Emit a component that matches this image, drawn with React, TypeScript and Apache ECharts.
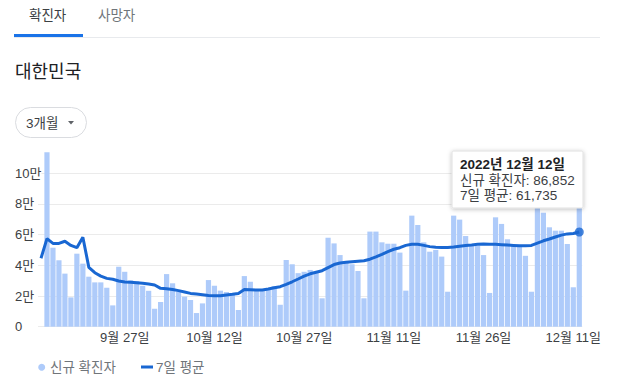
import React, { useEffect, useRef } from 'react';
import * as echarts from 'echarts';

const FF = 'Arial, "Liberation Sans", "Noto Sans CJK KR", sans-serif';

const categories = [
  '9월 13일', '9월 14일', '9월 15일', '9월 16일', '9월 17일', '9월 18일', '9월 19일', '9월 20일', '9월 21일', '9월 22일',
  '9월 23일', '9월 24일', '9월 25일', '9월 26일', '9월 27일', '9월 28일', '9월 29일', '9월 30일',
  '10월 1일', '10월 2일', '10월 3일', '10월 4일', '10월 5일', '10월 6일', '10월 7일', '10월 8일', '10월 9일', '10월 10일',
  '10월 11일', '10월 12일', '10월 13일', '10월 14일', '10월 15일', '10월 16일', '10월 17일', '10월 18일', '10월 19일', '10월 20일',
  '10월 21일', '10월 22일', '10월 23일', '10월 24일', '10월 25일', '10월 26일', '10월 27일', '10월 28일', '10월 29일', '10월 30일', '10월 31일',
  '11월 1일', '11월 2일', '11월 3일', '11월 4일', '11월 5일', '11월 6일', '11월 7일', '11월 8일', '11월 9일', '11월 10일',
  '11월 11일', '11월 12일', '11월 13일', '11월 14일', '11월 15일', '11월 16일', '11월 17일', '11월 18일', '11월 19일', '11월 20일',
  '11월 21일', '11월 22일', '11월 23일', '11월 24일', '11월 25일', '11월 26일', '11월 27일', '11월 28일', '11월 29일', '11월 30일',
  '12월 1일', '12월 2일', '12월 3일', '12월 4일', '12월 5일', '12월 6일', '12월 7일', '12월 8일', '12월 9일', '12월 10일',
  '12월 11일', '12월 12일',
];

const xTickLabels = ['9월 27일', '10월 12일', '10월 27일', '11월 11일', '11월 26일', '12월 11일'];

const newCases = [
  null,
  113700, 51500, 43300, 34600, 19100, 47600, 41100, 32600, 28900, 28900,
  25400, 13900, 39100, 35800, 30200, 29700, 26700, 23400, 11700, 16100,
  34300, 28300, 22800, 19600, 17400, 8900, 15200, 30400, 26700, 23500,
  22600, 21300, 10900, 33000, 29300, 24300, 24000, 25200, 26400, 14300,
  43500, 40700, 34900, 35800, 37000, 35200, 18500, 58000, 54300, 46700,
  42400, 40700, 36300, 18500, 62000, 62000, 55000, 54100, 54100, 48300,
  23500, 72400, 66300, 55000, 48900, 50000, 45700, 22800, 72400, 69800,
  59100, 53300, 52800, 46700, 22000, 71300, 67000, 57000, 53300, 53300,
  46200, 22800, 80000, 74300, 64800, 62600, 62600, 53900, 25700, 86852,
];

const avg7 = [
  44600,
  57400, 54300, 54300, 55700, 53000, 51500, 58300, 38700, 35200, 33000,
  31500, 30900, 29800, 29100, 28900, 28700, 28300, 27800, 27200, 25000,
  24800, 24300, 23500, 22600, 21700, 21300, 20900, 20400, 20200, 20200,
  20700, 21100, 21700, 24300, 24100, 23900, 23900, 24600, 25400, 26100,
  27600, 29300, 31100, 33000, 34500, 35500, 36500, 38500, 40500, 41500,
  42000, 42400, 42700, 43000, 44000, 45500, 47200, 49000, 50500, 51500,
  53000, 53700, 53700, 53000, 52200, 51800, 51700, 51700, 52000, 52500,
  53000, 53300, 53700, 53900, 53800, 53700, 53500, 53300, 53000, 52700,
  52800, 53000, 54500, 56000, 57200, 58500, 59700, 60500, 60800, 61735,
];

const barColor = '#aecbfa';
const lineColor = '#1967d2';

export default function App() {
  const ref = useRef<HTMLDivElement>(null);

  useEffect(() => {
    const chart = echarts.init(ref.current!, null, { renderer: 'svg' });
    const lastCat = categories[categories.length - 1];
    const lastAvg = avg7[avg7.length - 1];
    chart.setOption({
      animation: false,
      grid: { left: 38, top: 173.3, width: 552, height: 153.4, containLabel: false },
      xAxis: {
        type: 'category',
        data: categories,
        boundaryGap: true,
        axisLine: { show: false },
        axisTick: { show: false },
        axisLabel: {
          interval: (_i: number, v: string) => xTickLabels.includes(v),
          color: '#3c4043',
          fontFamily: FF,
          fontSize: 13,
          margin: 4,
          hideOverlap: false,
        },
      },
      yAxis: {
        type: 'value',
        min: 0,
        max: 100000,
        interval: 20000,
        axisLine: { show: false },
        axisTick: { show: false },
        splitLine: { lineStyle: { color: '#ebebeb', width: 1 } },
        axisLabel: {
          align: 'left',
          margin: 23,
          color: '#3c4043',
          fontFamily: FF,
          fontSize: 13,
          backgroundColor: '#fff',
          formatter: (v: number) => (v === 0 ? '0' : `${v / 10000}만`),
        },
      },
      series: [
        {
          name: '신규 확진자',
          type: 'bar',
          data: newCases,
          barCategoryGap: '13%',
          clip: false,
          itemStyle: { color: barColor },
        },
        {
          name: '7일 평균',
          type: 'line',
          data: avg7,
          showSymbol: false,
          symbol: 'none',
          lineStyle: { color: lineColor, width: 3 },
          itemStyle: { color: lineColor },
          z: 3,
        },
        {
          type: 'scatter',
          data: [[lastCat, lastAvg]],
          symbolSize: 9,
          itemStyle: { color: lineColor },
          z: 4,
        },
      ],
      graphic: {
        elements: [
          // tabs
          { type: 'line', shape: { x1: 14, y1: 37.5, x2: 600, y2: 37.5 }, style: { stroke: '#e8eaed', lineWidth: 1 } },
          { type: 'rect', shape: { x: 14, y: 34, width: 69, height: 3 }, style: { fill: '#1a73e8' } },
          { type: 'text', x: 29, y: 15, style: { text: '확진자', font: `13.5px ${FF}`, fill: '#3c4043', textVerticalAlign: 'middle' } },
          { type: 'text', x: 98, y: 15, style: { text: '사망자', font: `13.5px ${FF}`, fill: '#70757a', textVerticalAlign: 'middle' } },
          // title
          { type: 'text', x: 15, y: 72, style: { text: '대한민국', font: `18px ${FF}`, fill: '#202124', textVerticalAlign: 'middle' } },
          // pill
          { type: 'rect', shape: { x: 15.5, y: 107.5, width: 71, height: 30, r: 15 }, style: { fill: '#fff', stroke: '#dadce0', lineWidth: 1 } },
          { type: 'text', x: 26, y: 123, style: { text: '3개월', font: `13.5px ${FF}`, fill: '#3c4043', textVerticalAlign: 'middle' } },
          { type: 'polygon', shape: { points: [[68, 121], [74, 121], [71, 124.5]] }, style: { fill: '#5f6368' } },
          // legend
          { type: 'circle', shape: { cx: 41.7, cy: 367.3, r: 3.5 }, style: { fill: barColor } },
          { type: 'text', x: 50, y: 367, style: { text: '신규 확진자', font: `13.5px ${FF}`, fill: '#70757a', textVerticalAlign: 'middle' } },
          { type: 'rect', shape: { x: 141, y: 365.5, width: 12, height: 3 }, style: { fill: lineColor } },
          { type: 'text', x: 156, y: 367, style: { text: '7일 평균', font: `13.5px ${FF}`, fill: '#70757a', textVerticalAlign: 'middle' } },
          // tooltip
          {
            type: 'group',
            z: 100,
            children: [
              {
                type: 'rect',
                shape: { x: 452, y: 151, width: 131, height: 57, r: 1 },
                style: { fill: '#fff', stroke: '#e0e0e0', lineWidth: 1, shadowBlur: 4, shadowOffsetY: 1, shadowColor: 'rgba(0,0,0,0.25)' },
                z: 100,
              },
              { type: 'text', x: 460, y: 164, z: 101, style: { text: '2022년 12월 12일', font: `bold 13.5px ${FF}`, fill: '#202124', textVerticalAlign: 'middle' } },
              { type: 'text', x: 460, y: 180, z: 101, style: { text: '신규 확진자: 86,852', font: `13.5px ${FF}`, fill: '#3c4043', textVerticalAlign: 'middle' } },
              { type: 'text', x: 460, y: 195, z: 101, style: { text: '7일 평균: 61,735', font: `13.5px ${FF}`, fill: '#3c4043', textVerticalAlign: 'middle' } },
            ],
          },
        ],
      },
    });
    return () => chart.dispose();
  }, []);

  return (
    <div style={{ position: 'absolute', left: 0, top: 0, width: 623, height: 389, background: '#fff', overflow: 'hidden' }}>
      <div ref={ref} style={{ width: 604, height: 389 }} />
    </div>
  );
}
